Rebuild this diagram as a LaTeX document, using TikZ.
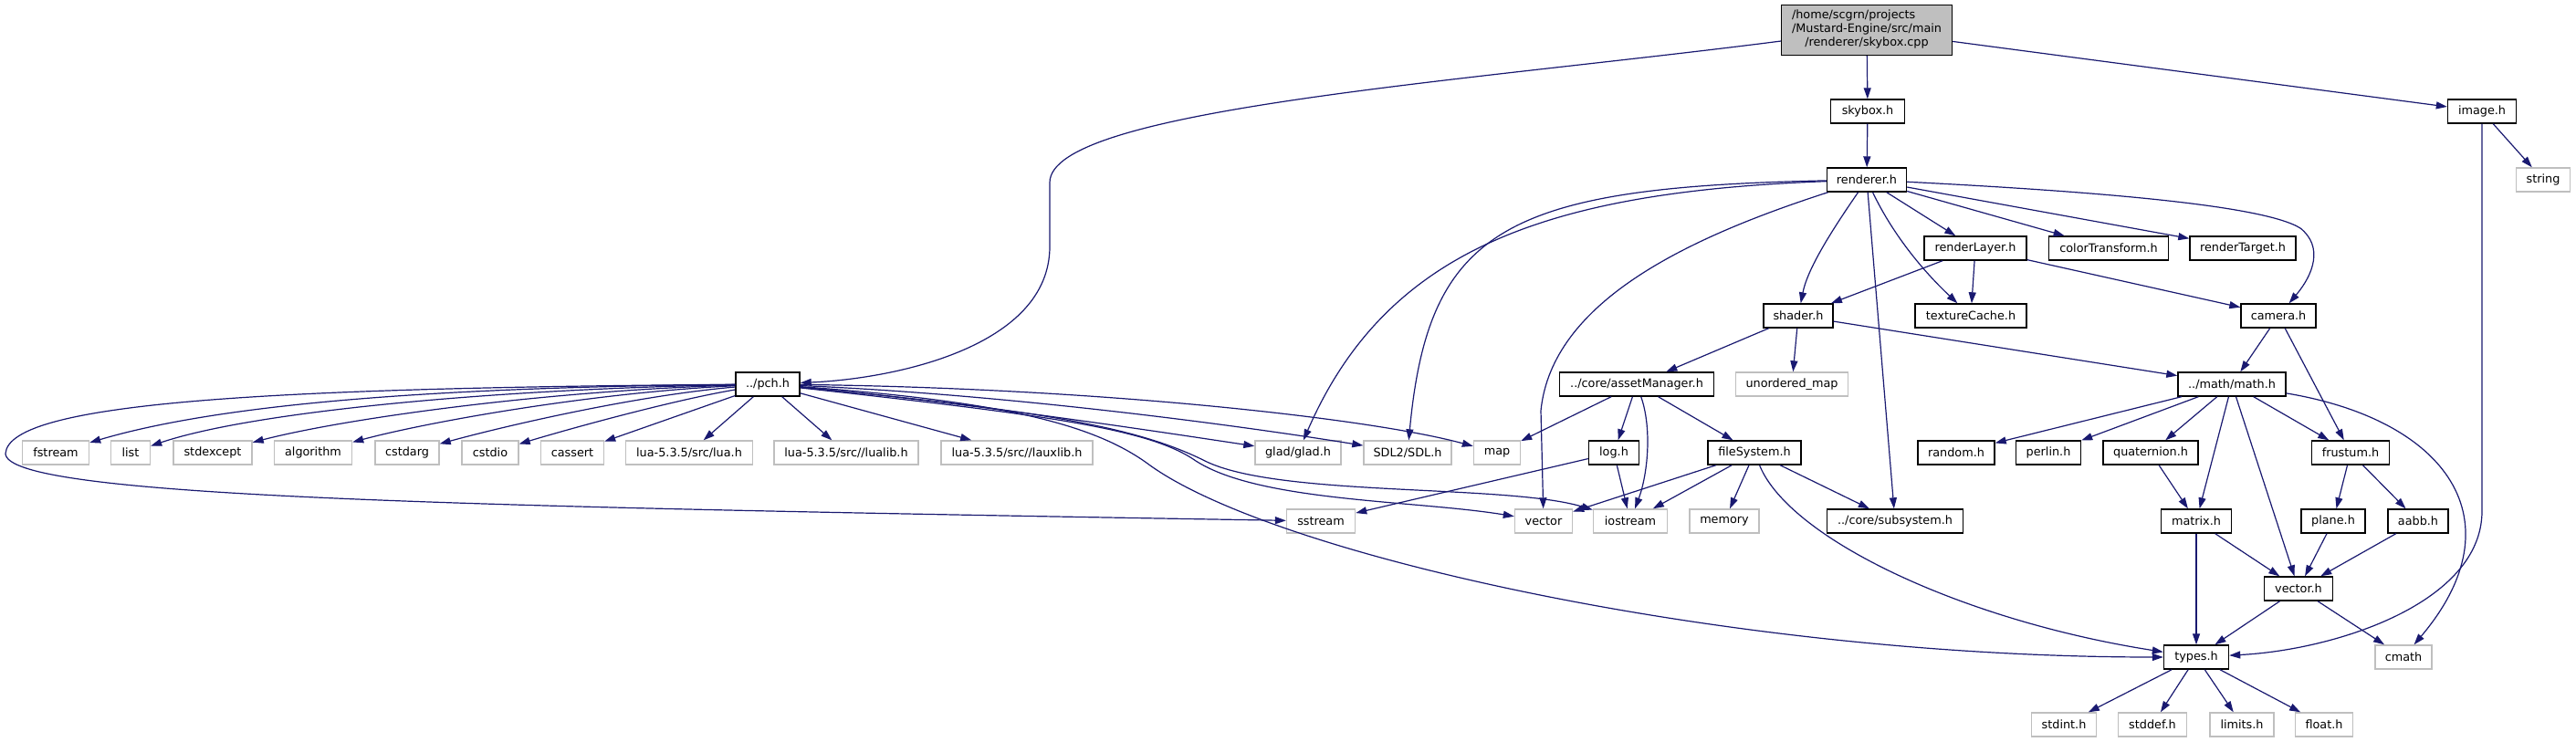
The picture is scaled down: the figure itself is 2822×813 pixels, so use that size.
\documentclass[tikz,border=0pt]{standalone}
\usepackage{fontspec}
\setmainfont{DejaVu Sans}
\usetikzlibrary{arrows.meta}
\definecolor{edgec}{HTML}{191970}
\definecolor{sysc}{HTML}{BFBFBF}
\definecolor{mainc}{HTML}{BFBFBF}
\tikzset{
  base/.style={inner sep=0pt, minimum height=13pt, fill=white,
    font=\fontsize{6.4pt}{7.5pt}\selectfont, text=black},
  hdr/.style={base, draw=black, line width=0.7pt},
  sys/.style={base, draw=sysc, line width=0.7pt},
  mainnode/.style={base, draw=black, line width=0.7pt, fill=mainc},
  edge/.style={draw=edgec, line width=0.6pt, -{Triangle[length=6pt,width=4pt]}, fill=none},
}
\begin{document}
\begin{tikzpicture}[x=0.5pt,y=-0.5pt]
\fill[white] (0,0) rectangle (2822,813);
\useasboundingbox (0,0) rectangle (2822,813);
% nodes
\node[mainnode, minimum width=93.5pt, minimum height=27.5pt] (main) at (2045,33)
  {\begin{tabular}{@{}c@{}}\multicolumn{1}{@{}l@{}}{/home/scgrn/projects}\\/Mustard-Engine/src/main\\/renderer/skybox.cpp\end{tabular}};
\node[hdr, minimum width=40.5pt] (skyboxh) at (2046,122) {skybox.h};
\node[hdr, minimum width=37.5pt] (imageh) at (2719,122) {image.h};
\node[sys, minimum width=29.5pt] (string) at (2786,197) {string};
\node[hdr, minimum width=43.5pt] (renderer) at (2045,197) {renderer.h};
\node[hdr, minimum width=56pt] (renderLayer) at (2164,272) {renderLayer.h};
\node[hdr, minimum width=65.5pt] (colorTransform) at (2310,272) {colorTransform.h};
\node[hdr, minimum width=58pt] (renderTarget) at (2457,272) {renderTarget.h};
\node[hdr, minimum width=38pt] (shader) at (1970,346) {shader.h};
\node[hdr, minimum width=61pt] (textureCache) at (2159,346) {textureCache.h};
\node[hdr, minimum width=41pt] (camera) at (2496,346) {camera.h};
\node[sys, minimum width=61.5pt] (unorderedmap) at (1963,421) {unordered\_map};
\node[hdr, minimum width=59pt] (math) at (2445,421) {../math/math.h};
\node[hdr, minimum width=84.5pt] (assetManager) at (1793,421) {../core/assetManager.h};
\node[hdr, minimum width=35pt] (pch) at (841,421) {../pch.h};
\node[sys, minimum width=36.5pt] (fstream) at (61,496) {fstream};
\node[sys, minimum width=21.5pt] (list) at (143,496) {list};
\node[sys, minimum width=43pt] (stdexcept) at (233,496) {stdexcept};
\node[sys, minimum width=42.5pt] (algorithm) at (343,496) {algorithm};
\node[sys, minimum width=35pt] (cstdarg) at (446,496) {cstdarg};
\node[sys, minimum width=31pt] (cstdio) at (537,496) {cstdio};
\node[sys, minimum width=34.5pt] (cassert) at (627,496) {cassert};
\node[sys, minimum width=69.5pt] (luah) at (755,496) {lua-5.3.5/src/lua.h};
\node[sys, minimum width=79pt] (lualib) at (927,496) {lua-5.3.5/src//lualib.h};
\node[sys, minimum width=83pt] (lauxlib) at (1114,496) {lua-5.3.5/src//lauxlib.h};
\node[sys, minimum width=47pt] (glad) at (1422,496) {glad/glad.h};
\node[sys, minimum width=48pt] (sdl) at (1542,496) {SDL2/SDL.h};
\node[sys, minimum width=25.5pt] (map) at (1640,496) {map};
\node[hdr, minimum width=27.5pt] (log) at (1768,496) {log.h};
\node[hdr, minimum width=51pt] (fileSystem) at (1922,496) {fileSystem.h};
\node[hdr, minimum width=42pt] (random) at (2143,496) {random.h};
\node[hdr, minimum width=35.5pt] (perlin) at (2244,496) {perlin.h};
\node[hdr, minimum width=52pt] (quaternion) at (2356,496) {quaternion.h};
\node[hdr, minimum width=42.5pt] (frustum) at (2575,496) {frustum.h};
\node[sys, minimum width=37.5pt] (sstream) at (1447,571) {sstream};
\node[sys, minimum width=31.5pt] (stdvector) at (1691,571) {vector};
\node[sys, minimum width=40.5pt] (iostream) at (1786,571) {iostream};
\node[sys, minimum width=38pt] (memory) at (1889,571) {memory};
\node[hdr, minimum width=74.5pt] (subsystem) at (2076,571) {../core/subsystem.h};
\node[hdr, minimum width=38.5pt] (matrix) at (2406,571) {matrix.h};
\node[hdr, minimum width=35pt] (plane) at (2556,571) {plane.h};
\node[hdr, minimum width=33pt] (aabb) at (2649,571) {aabb.h};
\node[hdr, minimum width=37.5pt] (vectorh) at (2518,645) {vector.h};
\node[hdr, minimum width=35.5pt] (types) at (2406,720) {types.h};
\node[sys, minimum width=31pt] (cmath) at (2633,720) {cmath};
\node[sys, minimum width=35.5pt] (stdint) at (2261,794) {stdint.h};
\node[sys, minimum width=37.5pt] (stddef) at (2358,794) {stddef.h};
\node[sys, minimum width=35pt] (limits) at (2456,794) {limits.h};
\node[sys, minimum width=31.5pt] (float) at (2546,794) {float.h};
% edges from skybox.cpp
\draw[edge] (main) -- (skyboxh);
\draw[edge] (main) -- (imageh);
\draw[edge] (main) .. controls (1600,90) and (1150,120) .. (1150,200) -- (1150,270) .. controls (1150,380) and (980,415) .. (pch);
\draw[edge] (skyboxh) -- (renderer);
\draw[edge] (imageh) -- (string);
\draw[edge] (imageh.south) -- (2719,560) .. controls (2719,660) and (2560,712) .. (types);
% renderer
\draw[edge] (renderer) -- (renderLayer);
\draw[edge] (renderer) -- (colorTransform);
\draw[edge] (renderer) -- (renderTarget);
\draw[edge] (renderer) .. controls (2300,210) and (2480,225) .. (2520,250) .. controls (2545,270) and (2535,300) .. (camera);
\draw[edge] (renderer) .. controls (2005,255) and (1980,295) .. (shader);
\draw[edge] (renderer) .. controls (2075,260) and (2110,300) .. (textureCache);
\draw[edge] (renderer) -- (subsystem);
\draw[edge] (renderer) .. controls (1850,260) and (1700,330) .. (1688,450) -- (stdvector);
\draw[edge] (renderer) .. controls (1650,205) and (1565,250) .. (sdl);
\draw[edge] (renderer) .. controls (1700,210) and (1520,270) .. (glad);
% pch
\draw[edge] (pch) .. controls (500,424) and (250,440) .. (fstream);
\draw[edge] (pch) .. controls (550,426) and (280,450) .. (list);
\draw[edge] (pch) .. controls (600,428) and (380,458) .. (stdexcept);
\draw[edge] (pch) .. controls (650,430) and (470,462) .. (algorithm);
\draw[edge] (pch) .. controls (700,433) and (560,465) .. (cstdarg);
\draw[edge] (pch) .. controls (740,438) and (630,468) .. (cstdio);
\draw[edge] (pch) -- (cassert);
\draw[edge] (pch) -- (luah);
\draw[edge] (pch) -- (lualib);
\draw[edge] (pch) -- (lauxlib);
\draw[edge] (pch) .. controls (1050,440) and (1250,470) .. (glad);
\draw[edge] (pch) .. controls (1100,432) and (1350,465) .. (sdl);
\draw[edge] (pch) .. controls (1200,425) and (1500,458) .. (map);
\draw[edge] (pch) .. controls (1150,450) and (1250,470) .. (1320,505) .. controls (1400,545) and (1650,530) .. (iostream);
\draw[edge] (pch) .. controls (1150,455) and (1260,470) .. (1310,505) .. controls (1380,550) and (1550,548) .. (stdvector);
\draw[edge] (pch) .. controls (1100,440) and (1200,465) .. (1260,510) .. controls (1400,610) and (1900,720) .. (types);
\draw[edge] (pch) .. controls (300,425) and (10,440) .. (6,497) .. controls (8,545) and (500,555) .. (sstream);
% shader, renderLayer, camera
\draw[edge] (shader) -- (assetManager);
\draw[edge] (shader) -- (unorderedmap);
\draw[edge] (shader) -- (math);
\draw[edge] (renderLayer) -- (shader);
\draw[edge] (renderLayer) -- (textureCache);
\draw[edge] (renderLayer) -- (camera);
\draw[edge] (camera) -- (math);
\draw[edge] (camera) -- (frustum);
% assetManager, log, fileSystem
\draw[edge] (assetManager) -- (map);
\draw[edge] (assetManager) -- (log);
\draw[edge] (assetManager) .. controls (1810,470) and (1805,520) .. (iostream);
\draw[edge] (assetManager) -- (fileSystem);
\draw[edge] (log) -- (sstream);
\draw[edge] (log) -- (iostream);
\draw[edge] (fileSystem) -- (stdvector);
\draw[edge] (fileSystem) -- (iostream);
\draw[edge] (fileSystem) -- (memory);
\draw[edge] (fileSystem) -- (subsystem);
\draw[edge] (fileSystem) .. controls (1960,590) and (2150,680) .. (types);
% math
\draw[edge] (math) -- (random);
\draw[edge] (math) -- (perlin);
\draw[edge] (math) -- (quaternion);
\draw[edge] (math) -- (matrix);
\draw[edge] (math) -- (vectorh);
\draw[edge] (math) -- (frustum);
\draw[edge] (math) .. controls (2680,460) and (2760,570) .. (cmath);
\draw[edge] (quaternion) -- (matrix);
\draw[edge] (frustum) -- (plane);
\draw[edge] (frustum) -- (aabb);
\draw[edge] (matrix) -- (vectorh);
\draw[edge] (matrix) -- (types);
\draw[edge] (plane) -- (vectorh);
\draw[edge] (aabb) -- (vectorh);
\draw[edge] (vectorh) -- (types);
\draw[edge] (vectorh) -- (cmath);
\draw[edge] (types) -- (stdint);
\draw[edge] (types) -- (stddef);
\draw[edge] (types) -- (limits);
\draw[edge] (types) -- (float);
\end{tikzpicture}
\end{document}
